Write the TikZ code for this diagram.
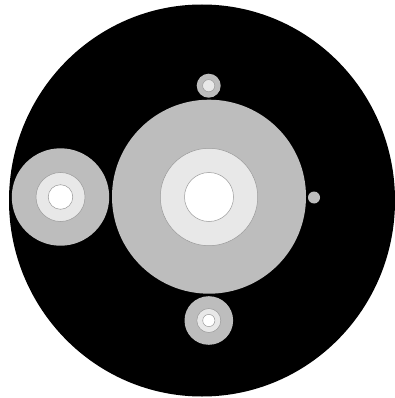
\documentclass[tikz,border=0pt]{standalone}
\begin{document}
\begin{tikzpicture}[x=1pt,y=-1pt,
  gray disc/.style={fill=diskgray},
  light ring/.style={fill=ringlight, draw=edgegray, line width=0.5pt},
  hole/.style={fill=white, draw=edgegray, line width=0.5pt}]
\definecolor{diskgray}{HTML}{BDBDBD}
\definecolor{ringlight}{HTML}{E8E8E8}
\definecolor{edgegray}{HTML}{9A9A9A}
\useasboundingbox (0,0) rectangle (395,398);
% outer black disc
\fill[black] (202,200.5) ellipse [x radius=193, y radius=196];
% main disc
\fill[gray disc] (209,196.7) circle (97);
\filldraw[light ring] (209,197) circle (48.7);
\filldraw[hole] (209,197) circle (24.5);
% left disc
\fill[gray disc] (60.5,197) circle (48.7);
\filldraw[light ring] (60.5,197) circle (24.5);
\filldraw[hole] (60.5,197) circle (12.3);
% top small
\fill[gray disc] (208.7,85.7) circle (12);
\filldraw[light ring] (208.7,85.7) circle (6.1);
% bottom
\fill[gray disc] (208.8,320.5) circle (24.3);
\filldraw[light ring] (208.8,320.5) circle (12);
\filldraw[hole] (208.8,320.5) circle (6.1);
% right dot
\fill[gray disc] (314,197.5) circle (6);
\end{tikzpicture}
\end{document}
